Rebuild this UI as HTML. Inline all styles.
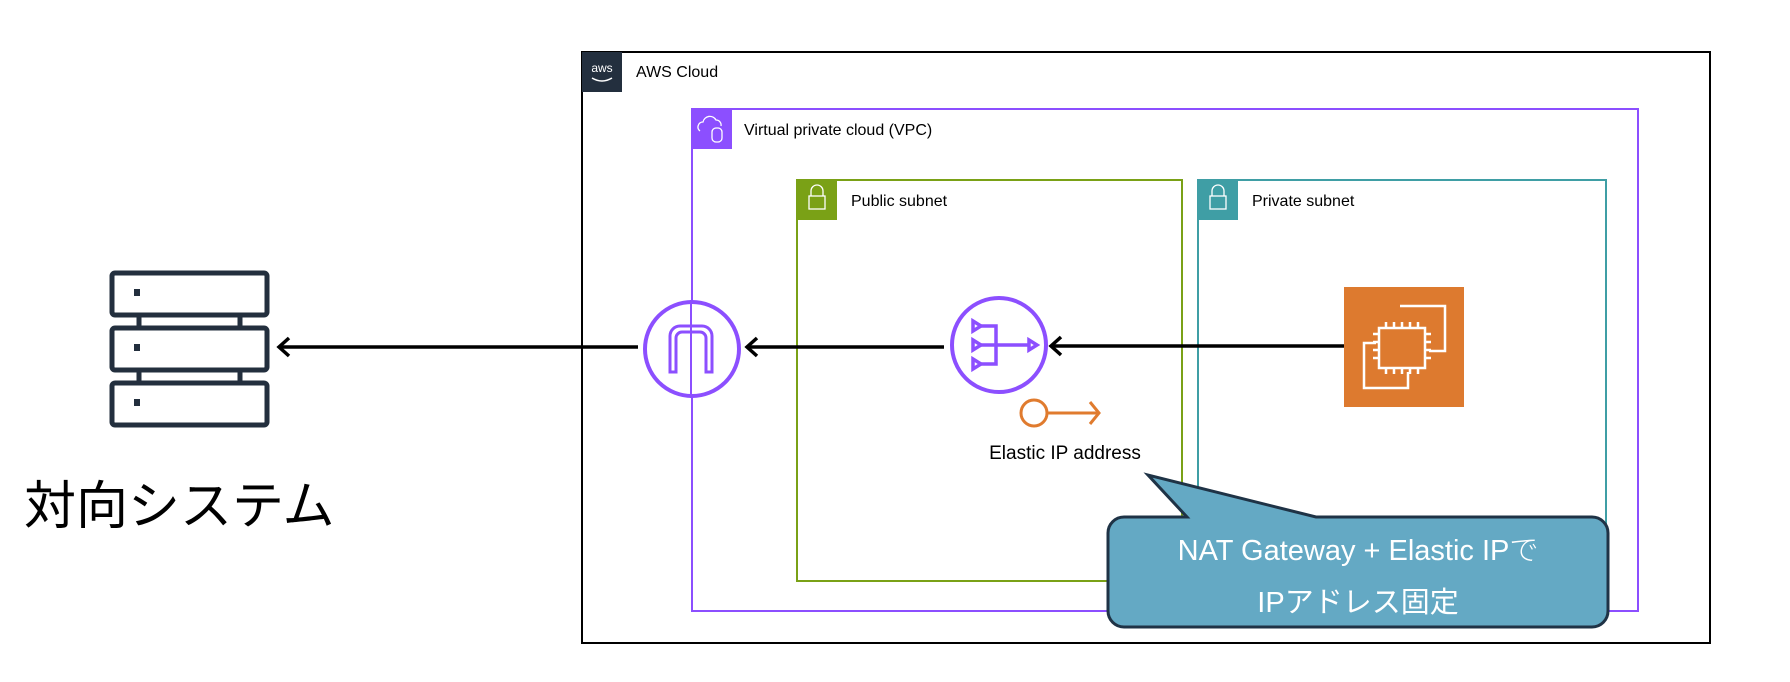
<!DOCTYPE html>
<html><head><meta charset="utf-8"><style>
html,body{margin:0;padding:0;background:#fff;}
svg{display:block;}
text{font-family:"Liberation Sans","Noto Sans CJK JP",sans-serif;}
</style></head><body>
<svg width="1790" height="682" viewBox="0 0 1790 682" xmlns="http://www.w3.org/2000/svg">
<!-- AWS Cloud -->
<rect x="582" y="52" width="1128" height="591" fill="none" stroke="#000" stroke-width="2"/>
<rect x="582" y="52" width="40" height="40" fill="#232F3E"/>
<text x="602" y="72" font-size="12" fill="#fff" text-anchor="middle">aws</text>
<path d="M592,78 Q602,84 612,78" fill="none" stroke="#fff" stroke-width="1.5"/>
<text x="636" y="77" font-size="16" fill="#000">AWS Cloud</text>
<!-- VPC -->
<rect x="692" y="109" width="946" height="502" fill="none" stroke="#8C4FFF" stroke-width="2"/>
<rect x="692" y="109" width="40" height="40" fill="#8C4FFF"/>
<path d="M700,131 a5,5 0 0 1 3,-9 a7,7 0 0 1 13,-2 a5,5 0 0 1 5,6" fill="none" stroke="#fff" stroke-width="1.3"/>
<rect x="712" y="128" width="10" height="14" rx="4" fill="none" stroke="#fff" stroke-width="1.3"/>
<text x="744" y="135" font-size="16" fill="#000">Virtual private cloud (VPC)</text>
<!-- Public subnet -->
<rect x="797" y="180" width="385" height="401" fill="none" stroke="#7AA116" stroke-width="2"/>
<rect x="797" y="180" width="40" height="40" fill="#7AA116"/>
<path d="M811,196 v-5 a6,6 0 0 1 12,0 v5" fill="none" stroke="#fff" stroke-width="1.3"/>
<rect x="809" y="196" width="16" height="13" fill="none" stroke="#fff" stroke-width="1.3"/>
<text x="851" y="206" font-size="16" fill="#000">Public subnet</text>
<!-- Private subnet -->
<rect x="1198" y="180" width="408" height="360" fill="none" stroke="#3F9EA5" stroke-width="2"/>
<rect x="1198" y="180" width="40" height="40" fill="#3F9EA5"/>
<path d="M1212,196 v-5 a6,6 0 0 1 12,0 v5" fill="none" stroke="#fff" stroke-width="1.3"/>
<rect x="1210" y="196" width="16" height="13" fill="none" stroke="#fff" stroke-width="1.3"/>
<text x="1252" y="206" font-size="16" fill="#000">Private subnet</text>
<!-- Server icon -->
<g fill="none" stroke="#232F3E" stroke-width="5">
<rect x="112" y="273" width="155" height="42" rx="3"/>
<rect x="112" y="328" width="155" height="42" rx="3"/>
<rect x="112" y="383" width="155" height="42" rx="3"/>
<line x1="139" y1="315" x2="139" y2="328"/><line x1="240" y1="315" x2="240" y2="328"/>
<line x1="139" y1="370" x2="139" y2="383"/><line x1="240" y1="370" x2="240" y2="383"/>
</g>
<rect x="134" y="289" width="6" height="7" fill="#232F3E"/>
<rect x="134" y="344" width="6" height="7" fill="#232F3E"/>
<rect x="134" y="399" width="6" height="7" fill="#232F3E"/>
<text x="24" y="524" font-size="52" fill="#000">対向システム</text>
<!-- Arrows -->
<g stroke="#000" stroke-width="3.5" fill="none">
<line x1="1344" y1="346" x2="1052" y2="346"/>
<path d="M1061,337 L1051,346 L1061,355"/>
<line x1="944" y1="347" x2="748" y2="347"/>
<path d="M757,338 L747,347 L757,356"/>
<line x1="638" y1="347" x2="280" y2="347"/>
<path d="M289,338 L279,347 L289,356"/>
</g>
<!-- IGW -->
<circle cx="692" cy="349" r="47" fill="#fff" stroke="#8C4FFF" stroke-width="4"/>
<line x1="691" y1="300" x2="691" y2="398" stroke="#8C4FFF" stroke-width="2"/>
<path d="M670,372 v-36 a10,10 0 0 1 10,-10 h22 a10,10 0 0 1 10,10 v36 h-6 v-34 a6,6 0 0 0 -6,-6 h-18 a6,6 0 0 0 -6,6 v34 z" fill="none" stroke="#8C4FFF" stroke-width="3"/>
<!-- NAT -->
<circle cx="999" cy="345" r="47" fill="#fff" stroke="#8C4FFF" stroke-width="4"/>
<g fill="none" stroke="#8C4FFF" stroke-width="3.5">
<path d="M973,321 l8,5 l-8,5 z M973,340 l8,5 l-8,5 z M973,359 l8,5 l-8,5 z M1029,340 l8,5 l-8,5 z"/>
<path d="M981,326 h15 v38 h-15 M981,345 h48"/>
</g>
<!-- EC2 -->
<rect x="1344" y="287" width="120" height="120" fill="#DD7A2F"/>
<g fill="none" stroke="#fff" stroke-width="2.5">
<path d="M1400,306 h45 v45 h-16"/>
<path d="M1376,343 h-12 v45 h44 v-16"/>
<rect x="1379" y="328" width="46" height="40" fill="#DD7A2F"/>
<path d="M1386,328 v-6 M1394,328 v-6 M1402,328 v-6 M1410,328 v-6 M1418,328 v-6 M1386,368 v6 M1394,368 v6 M1402,368 v6 M1410,368 v6 M1418,368 v6 M1379,334 h-6 M1379,342 h-6 M1379,350 h-6 M1379,358 h-6 M1425,334 h6 M1425,342 h6 M1425,350 h6 M1425,358 h6"/>
</g>
<!-- Elastic IP -->
<circle cx="1034" cy="413" r="13" fill="none" stroke="#E07B2E" stroke-width="3"/>
<line x1="1047" y1="413" x2="1098" y2="413" stroke="#E07B2E" stroke-width="3"/>
<path d="M1090,402 l9,11 l-9,11" fill="none" stroke="#E07B2E" stroke-width="3"/>
<text x="1065" y="459" font-size="19" fill="#000" text-anchor="middle">Elastic IP address</text>
<!-- Callout -->
<path d="M1124,517 H1187 L1148,475 L1316,517 H1592 a16,16 0 0 1 16,16 V611 a16,16 0 0 1 -16,16 H1124 a16,16 0 0 1 -16,-16 V533 a16,16 0 0 1 16,-16 z" fill="#64A9C4" stroke="#1F3346" stroke-width="3"/>
<text x="1358" y="560" font-size="29" fill="#fff" text-anchor="middle" font-family="'DejaVu Sans','Noto Sans CJK JP',sans-serif" font-weight="300">NAT Gateway + Elastic IPで</text>
<text x="1358" y="612" font-size="29" fill="#fff" text-anchor="middle" font-family="'DejaVu Sans','Noto Sans CJK JP',sans-serif">IPアドレス固定</text>
</svg>
</body></html>
